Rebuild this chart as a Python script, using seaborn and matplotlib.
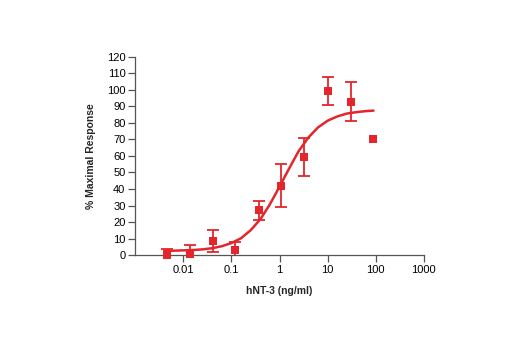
import numpy as np
import pandas as pd
import matplotlib
matplotlib.use("Agg")
import matplotlib.pyplot as plt
import seaborn as sns

# measured points (hNT-3 dose response)
conc = [0.0046, 0.014, 0.041, 0.12, 0.37, 1.1, 3.3, 10, 30, 90]
response = [0.3, 0.5, 8.5, 3.0, 27, 42, 59.4, 99.3, 92.9, 70.3]
error = [3.3, 5.5, 6.5, 5.0, 6.0, 13.0, 11.5, 8.5, 11.5, 0.0]

# fitted curve
curve_conc = [0.004, 0.0063, 0.01, 0.016, 0.025, 0.04, 0.063, 0.1, 0.16, 0.25,
              0.4, 0.63, 1.0, 1.6, 2.5, 4.0, 6.3, 10, 16, 25, 40, 63, 90]
curve_resp = [2.6, 2.7, 2.9, 3.1, 3.5, 4.2, 5.4, 7.3, 10.3, 15.0,
              21.7, 30.7, 41.4, 52.6, 62.9, 71.2, 77.2, 81.3, 83.9, 85.6, 86.5, 87.1, 87.4]

xticks = [0.01, 0.1, 1, 10, 100, 1000]
xtick_labels = ["0.01", "0.1", "1", "10", "100", "1000"]

red = "#e4252b"

sns.set_style("ticks")
plt.rcParams["font.family"] = ["Liberation Sans", "DejaVu Sans"]

pts = pd.DataFrame({"conc": conc, "response": response, "error": error})
fit = pd.DataFrame({"conc": curve_conc, "response": curve_resp})
with_err = pts[pts["error"] > 0]

fig = plt.figure(figsize=(5.2, 3.5), dpi=100)
ax = fig.add_axes([0.26, 0.271, 0.555, 0.567])

sns.lineplot(data=fit, x="conc", y="response", ax=ax, color=red, lw=1.8)
ax.errorbar(with_err["conc"], with_err["response"], yerr=with_err["error"], fmt="none",
            ecolor=red, elinewidth=1.3, capsize=4, capthick=1.3, zorder=3)
sns.scatterplot(data=pts, x="conc", y="response", ax=ax, color=red, marker="s",
                s=36, edgecolor=red, linewidth=0, zorder=4, clip_on=False)

ax.set_xscale("log")
ax.set_xlim(0.001, 1000)
ax.set_ylim(0, 120)
ax.set_xticks(xticks)
ax.set_xticklabels(xtick_labels)
ax.xaxis.set_minor_locator(matplotlib.ticker.NullLocator())
ax.set_yticks(range(0, 121, 10))

for s in ["top", "right"]:
    ax.spines[s].set_visible(False)
for s in ["left", "bottom"]:
    ax.spines[s].set_color("#555555")
    ax.spines[s].set_linewidth(0.9)
ax.tick_params(axis="both", labelsize=8, length=5, width=0.9, color="#555555",
               labelcolor="black", pad=2)

ax.set_xlabel("hNT-3 (ng/ml)", fontsize=7.5, fontweight="bold", labelpad=8)
ax.set_ylabel("% Maximal Response", fontsize=7.5, fontweight="bold", labelpad=8)

fig.savefig("out.png", dpi=100)
